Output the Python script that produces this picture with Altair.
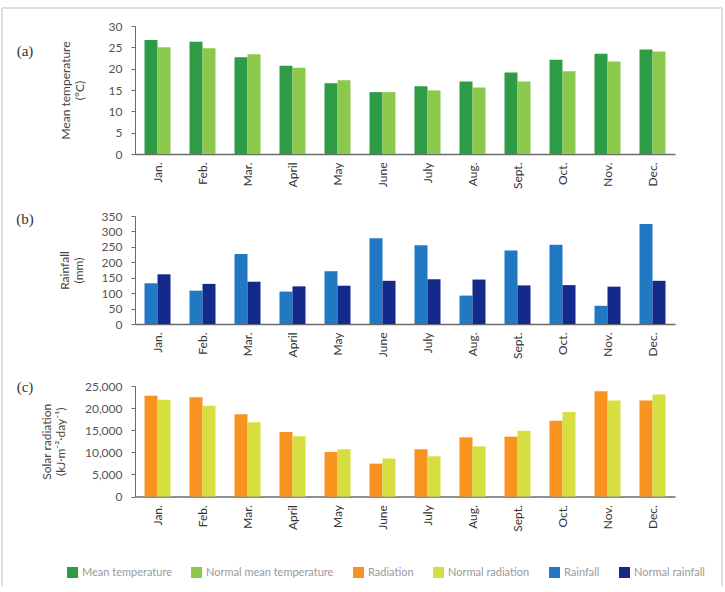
import altair as alt
import pandas as pd

# Month categories shared by all three panels
months = ["Jan.", "Feb.", "Mar.", "April", "May", "June",
          "July", "Aug.", "Sept.", "Oct.", "Nov.", "Dec."]

# (a) Mean air temperature, degC
mean_temp = [26.7, 26.3, 22.7, 20.7, 16.6, 14.5, 15.9, 17.0, 19.1, 22.1, 23.5, 24.5]
normal_mean_temp = [25.0, 24.8, 23.4, 20.2, 17.3, 14.5, 14.9, 15.6, 17.0, 19.4, 21.7, 24.0]

# (b) Monthly rainfall, mm
rainfall = [132, 108, 227, 105, 171, 278, 255, 92, 238, 257, 59, 324]
normal_rainfall = [161, 130, 137, 122, 124, 140, 145, 144, 125, 126, 121, 140]

# (c) Solar radiation, kJ m-2 day-1
radiation = [22800, 22450, 18600, 14600, 10100, 7450, 10700, 13400, 13550, 17150, 23800, 21750]
normal_radiation = [21900, 20550, 16800, 13650, 10700, 8600, 9100, 11350, 14900, 19100, 21750, 23100]

series_names = ["Mean temperature", "Normal mean temperature", "Radiation",
                "Normal radiation", "Rainfall", "Normal rainfall"]
series_colors = ["#2e9b47", "#8cc84b", "#f7931e", "#d6df3f", "#2179c3", "#13298c"]
panel_tags = ["(a)", "(b)", "(c)"]

SANS = "Lato"
SERIF = "Liberation Serif"
BAR_W = 13  # width of each bar in a monthly pair, px

color_scale = alt.Scale(domain=series_names, range=series_colors)
legend = alt.Legend(
    title=None, orient="none", legendX=-68, legendY=541,
    direction="horizontal", columns=6, columnPadding=19,
    symbolType="square", symbolSize=121, symbolStrokeWidth=0,
    labelFont=SANS, labelFontSize=11, labelColor="#9a9a9a", labelOffset=4,
)


def panel(first, second, names, y_title, y_max, y_step, height, tag,
          tag_y, title_pad, fmt="d"):
    x_enc = alt.X("month:N", sort=months,
                  scale=alt.Scale(paddingInner=0.42, paddingOuter=0.21),
                  axis=alt.Axis(title=None, labelAngle=270, ticks=False, tickSize=0,
                                labelPadding=8, labelFontSize=12, labelColor="#333333",
                                domainWidth=1.5))
    y_enc = alt.Y("value:Q", scale=alt.Scale(domain=[0, y_max], nice=False, zero=True),
                  axis=alt.Axis(values=list(range(0, y_max + 1, y_step)), format=fmt,
                                title=y_title, titlePadding=title_pad,
                                tickSize=4, labelPadding=9, labelFontSize=12,
                                labelColor="#555555", titleFontSize=12,
                                titleFontWeight="normal", titleColor="#444444",
                                titleLineHeight=14))
    c_enc = alt.Color("series:N", scale=color_scale, legend=legend)

    layers = []
    for name, values, shift in ((names[0], first, -BAR_W / 2), (names[1], second, BAR_W / 2)):
        df = pd.DataFrame({"month": months, "series": [name] * len(months), "value": values})
        layers.append(
            alt.Chart(df).mark_bar(width=BAR_W, xOffset=shift).encode(
                x=x_enc, y=y_enc, color=c_enc
            )
        )
    tag_text = alt.Chart(pd.DataFrame({"tag": [tag]})).mark_text(
        font=SERIF, fontSize=15, color="#333333", align="center", baseline="middle"
    ).encode(x=alt.value(-110), y=alt.value(tag_y), text="tag:N")
    layers.append(tag_text)
    return layers, height


layers_a, h_a = panel(mean_temp, normal_mean_temp, series_names[0:2],
                      ["Mean temperature", "(\u00b0C)"], 30, 5, 128, panel_tags[0], 25, 22)
layers_b, h_b = panel(rainfall, normal_rainfall, series_names[4:6],
                      ["Rainfall", "(mm)"], 350, 50, 108, panel_tags[1], 3, 16)
layers_c, h_c = panel(radiation, normal_radiation, series_names[2:4],
                      ["Solar radiation", "(kJ\u00b7m\u207b\u00b2\u00b7day\u207b\u00b9)"],
                      25000, 5000, 110.6, panel_tags[2], 1, 17, fmt=",.0f")

# Light frame around the figure (top, left and right edges)
frame = alt.Chart(pd.DataFrame({"edge": ["frame"]})).mark_rule(color="#dedede", strokeWidth=2)
frame_top = frame.encode(x=alt.value(-133), x2=alt.value(587), y=alt.value(-18))
frame_left = frame.encode(x=alt.value(-133), y=alt.value(-18), y2=alt.value(560))
frame_right = frame.encode(x=alt.value(587), y=alt.value(-18), y2=alt.value(560))

panel_a = alt.layer(frame_top, frame_left, frame_right, *layers_a).properties(width=540, height=h_a)
panel_b = alt.layer(*layers_b).properties(width=540, height=h_b)
panel_c = alt.layer(*layers_c).properties(width=540, height=h_c)

chart = alt.vconcat(panel_a, panel_b, panel_c, spacing=62, bounds="flush").properties(
    padding={"left": 1, "top": 7, "right": 1, "bottom": 0}
).resolve_scale(color="shared").configure_view(stroke=None).configure_axis(
    grid=False, domainColor="#6b6b6b", tickColor="#6b6b6b",
    labelFont=SANS, titleFont=SANS,
)

chart.save("out.html", embed_options={"renderer": "svg", "actions": False})
